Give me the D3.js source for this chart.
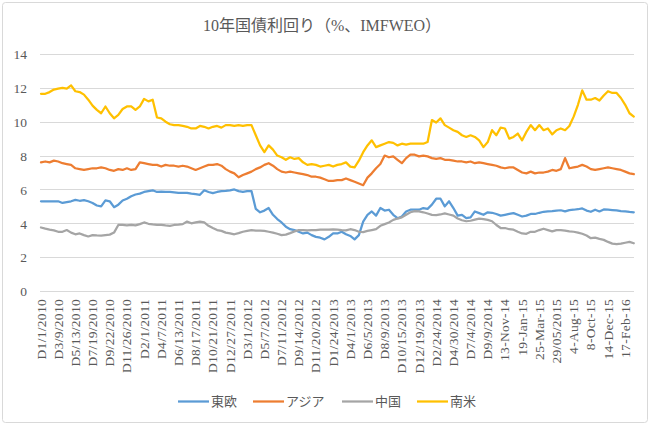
<!DOCTYPE html>
<html><head><meta charset="utf-8">
<script src="https://cdn.jsdelivr.net/npm/d3@7/dist/d3.min.js"></script>
<style>
html,body{margin:0;padding:0;background:#fff;}
svg{display:block;}
.serif{font-family:"Liberation Serif","DejaVu Serif","Noto Sans CJK JP",serif;}
.sans{font-family:"Noto Sans CJK JP","Noto Sans",sans-serif;}
</style></head>
<body>
<script>
const titleText = "10年国債利回り（%、IMFWEO）";
const seriesNames = ["東欧", "アジア", "中国", "南米"];
const seriesColors = ["#5B9BD5", "#ED7D31", "#A5A5A5", "#FFC000"];
const xTickLabels = ["D1/1/2010","D3/9/2010","D5/13/2010","D7/19/2010","D9/22/2010","D11/26/2010","D2/1/2011","D4/7/2011","D6/13/2011","D8/17/2011","D10/21/2011","D12/27/2011","D3/1/2012","D5/7/2012","D7/11/2012","D9/14/2012","D11/20/2012","D1/24/2013","D4/1/2013","D6/5/2013","D8/9/2013","D10/15/2013","D12/19/2013","D2/24/2014","D4/30/2014","D7/4/2014","D9/9/2014","13-Nov-14","19-Jan-15","25-Mar-15","29/05/2015","4-Aug-15","8-Oct-15","14-Dec-15","17-Feb-16"];
const yTicks = [0, 2, 4, 6, 8, 10, 12, 14];
const pointsPerLabel = 4;

const easternEurope = [5.3,5.3,5.3,5.3,5.3,5.2,5.25,5.3,5.38,5.33,
5.37,5.3,5.2,5.05,5.0,5.35,5.3,4.95,5.1,5.35,
5.45,5.6,5.7,5.75,5.85,5.9,5.95,5.85,5.87,5.85,
5.85,5.83,5.8,5.8,5.8,5.75,5.72,5.68,5.95,5.85,
5.78,5.85,5.9,5.92,5.95,6.0,5.9,5.85,5.9,5.9,
4.85,4.65,4.75,4.9,4.5,4.25,4.05,3.8,3.65,3.6,
3.5,3.4,3.45,3.3,3.2,3.15,3.05,3.2,3.4,3.4,
3.5,3.35,3.25,3.05,3.3,4.1,4.5,4.7,4.45,4.9,
4.75,4.8,4.5,4.3,4.4,4.7,4.8,4.8,4.8,4.9,
4.85,5.1,5.45,5.45,5.0,5.3,4.9,4.45,4.5,4.3,
4.35,4.7,4.6,4.5,4.65,4.62,4.55,4.45,4.5,4.55,
4.6,4.5,4.4,4.45,4.55,4.55,4.62,4.68,4.7,4.72,
4.75,4.77,4.7,4.78,4.8,4.83,4.88,4.75,4.68,4.8,
4.7,4.82,4.8,4.78,4.76,4.72,4.7,4.67,4.65];

const asia = [7.6,7.65,7.6,7.7,7.65,7.55,7.5,7.45,7.25,7.2,
7.15,7.2,7.25,7.25,7.3,7.25,7.15,7.1,7.2,7.15,
7.25,7.15,7.2,7.6,7.55,7.5,7.45,7.45,7.35,7.45,
7.4,7.4,7.35,7.4,7.35,7.25,7.15,7.25,7.35,7.45,
7.45,7.5,7.4,7.2,7.05,6.95,6.72,6.85,6.95,7.05,
7.2,7.3,7.45,7.55,7.4,7.2,7.05,7.0,7.05,7.0,
6.95,6.9,6.85,6.75,6.75,6.7,6.6,6.5,6.5,6.55,
6.55,6.65,6.55,6.45,6.35,6.25,6.7,6.95,7.25,7.5,
8.0,7.9,7.95,7.75,7.55,7.85,8.05,8.05,7.95,8.0,
7.95,7.85,7.8,7.85,7.75,7.75,7.7,7.65,7.65,7.6,
7.65,7.55,7.6,7.55,7.5,7.45,7.4,7.3,7.25,7.3,
7.3,7.15,7.0,6.95,7.05,6.95,7.0,7.0,7.05,7.15,
7.1,7.2,7.85,7.25,7.3,7.35,7.45,7.35,7.2,7.15,
7.2,7.25,7.3,7.25,7.2,7.15,7.05,6.95,6.9];

const china = [3.75,3.68,3.62,3.58,3.5,3.5,3.6,3.45,3.35,3.4,
3.3,3.22,3.3,3.28,3.27,3.3,3.33,3.45,3.9,3.9,
3.88,3.9,3.88,3.95,4.05,3.97,3.93,3.9,3.9,3.87,
3.85,3.9,3.92,3.95,4.1,4.0,4.05,4.1,4.05,3.85,
3.72,3.6,3.55,3.45,3.4,3.35,3.42,3.5,3.55,3.6,
3.57,3.57,3.55,3.5,3.45,3.38,3.3,3.33,3.42,3.52,
3.6,3.6,3.58,3.6,3.6,3.62,3.63,3.63,3.64,3.63,
3.6,3.58,3.65,3.6,3.5,3.48,3.55,3.6,3.65,3.85,
3.95,4.05,4.2,4.28,4.35,4.5,4.65,4.72,4.7,4.65,
4.58,4.5,4.48,4.52,4.58,4.52,4.45,4.28,4.18,4.12,
4.15,4.22,4.28,4.25,4.2,4.12,3.9,3.72,3.72,3.65,
3.62,3.5,3.4,3.38,3.5,3.5,3.6,3.68,3.6,3.52,
3.6,3.6,3.57,3.52,3.5,3.45,3.38,3.28,3.12,3.15,
3.08,3.02,2.9,2.8,2.77,2.8,2.85,2.9,2.82];

const southAmerica = [11.65,11.65,11.75,11.9,11.95,12.0,11.95,12.15,11.8,11.75,
11.6,11.3,10.95,10.7,10.5,10.9,10.5,10.2,10.4,10.75,
10.9,10.9,10.7,10.9,11.35,11.2,11.3,10.25,10.2,10.0,
9.85,9.8,9.8,9.75,9.7,9.6,9.6,9.75,9.7,9.6,
9.7,9.75,9.65,9.8,9.8,9.75,9.8,9.75,9.8,9.8,
9.2,8.6,8.2,8.6,8.35,8.0,7.9,7.75,7.9,7.8,
7.85,7.6,7.45,7.5,7.45,7.35,7.4,7.45,7.35,7.45,
7.5,7.6,7.35,7.3,7.7,8.2,8.6,8.9,8.5,8.6,
8.7,8.8,8.75,8.6,8.7,8.65,8.7,8.7,8.7,8.7,
8.8,10.1,9.95,10.2,9.8,9.65,9.5,9.4,9.2,9.1,
9.2,9.1,8.9,8.5,8.8,9.5,9.2,9.65,9.6,9.0,
9.1,9.3,8.9,9.4,9.8,9.5,9.8,9.5,9.6,9.25,
9.5,9.6,9.5,9.75,10.3,11.0,11.85,11.3,11.3,11.4,
11.25,11.55,11.8,11.7,11.7,11.4,11.0,10.5,10.3];

const seriesData = [easternEurope, asia, china, southAmerica];

const W = 650, H = 425;
const svg = d3.select("body").append("svg").attr("width", W).attr("height", H);
svg.append("rect").attr("x", 0).attr("y", 0).attr("width", W).attr("height", H).attr("fill", "#fff");
svg.append("rect").attr("x", 2.5).attr("y", 2.5).attr("width", W - 5).attr("height", H - 5)
  .attr("rx", 3).attr("fill", "none").attr("stroke", "#D9D9D9").attr("stroke-width", 1);

const textColor = "#595959";

const nPts = southAmerica.length;
const x = d3.scaleLinear().domain([0, nPts - 1]).range([41, 633.8]);
const y = d3.scaleLinear().domain([0, 14]).range([291, 54]);
const plotLeft = 40, plotRight = 634;

// title
svg.append("text").attr("class", "serif").attr("x", 322).attr("y", 31).attr("text-anchor", "middle")
  .attr("font-size", 16).attr("fill", textColor).text(titleText);

// grid
svg.append("g").selectAll("line").data(yTicks).join("line")
  .attr("x1", plotLeft).attr("x2", plotRight)
  .attr("y1", d => Math.round(y(d)) + 0.5).attr("y2", d => Math.round(y(d)) + 0.5)
  .attr("stroke", "#D9D9D9").attr("stroke-width", 1);

// y axis labels
const yAxis = d3.axisLeft(y).tickValues(yTicks).tickSize(0).tickPadding(0).tickFormat(d3.format("d"));
const gy = svg.append("g").attr("transform", "translate(27,0)").call(yAxis);
gy.attr("font-family", null).attr("font-size", null);
gy.select(".domain").remove();
gy.selectAll("text").attr("class", "serif").attr("font-size", 13.5).attr("fill", textColor).attr("dy", "0.35em");

// x axis labels
const gx = svg.append("g");
gx.selectAll("text").data(xTickLabels).join("text")
  .attr("class", "serif")
  .attr("transform", (d, i) => `translate(${x(i * pointsPerLabel) + 4.5},299) rotate(-90)`)
  .attr("text-anchor", "end")
  .attr("font-size", 13.5).attr("letter-spacing", 0.3).attr("fill", textColor)
  .text(d => d);

// lines
const line = d3.line().x((d, i) => x(i)).y(d => y(d));
svg.append("g").selectAll("path").data(seriesData).join("path")
  .attr("d", d => line(d))
  .attr("fill", "none")
  .attr("stroke", (d, i) => seriesColors[i])
  .attr("stroke-width", 2.25)
  .attr("stroke-linejoin", "round")
  .attr("stroke-linecap", "round");

// legend
const legendX = [178, 253, 342, 417];
const lg = svg.append("g");
seriesNames.forEach((name, i) => {
  lg.append("line").attr("x1", legendX[i]).attr("x2", legendX[i] + 31)
    .attr("y1", 401.5).attr("y2", 401.5)
    .attr("stroke", seriesColors[i]).attr("stroke-width", 2.25);
  lg.append("text").attr("class", "sans").attr("x", legendX[i] + 33).attr("y", 406)
    .attr("font-size", 13).attr("fill", textColor).text(name);
});
</script>
</body></html>
